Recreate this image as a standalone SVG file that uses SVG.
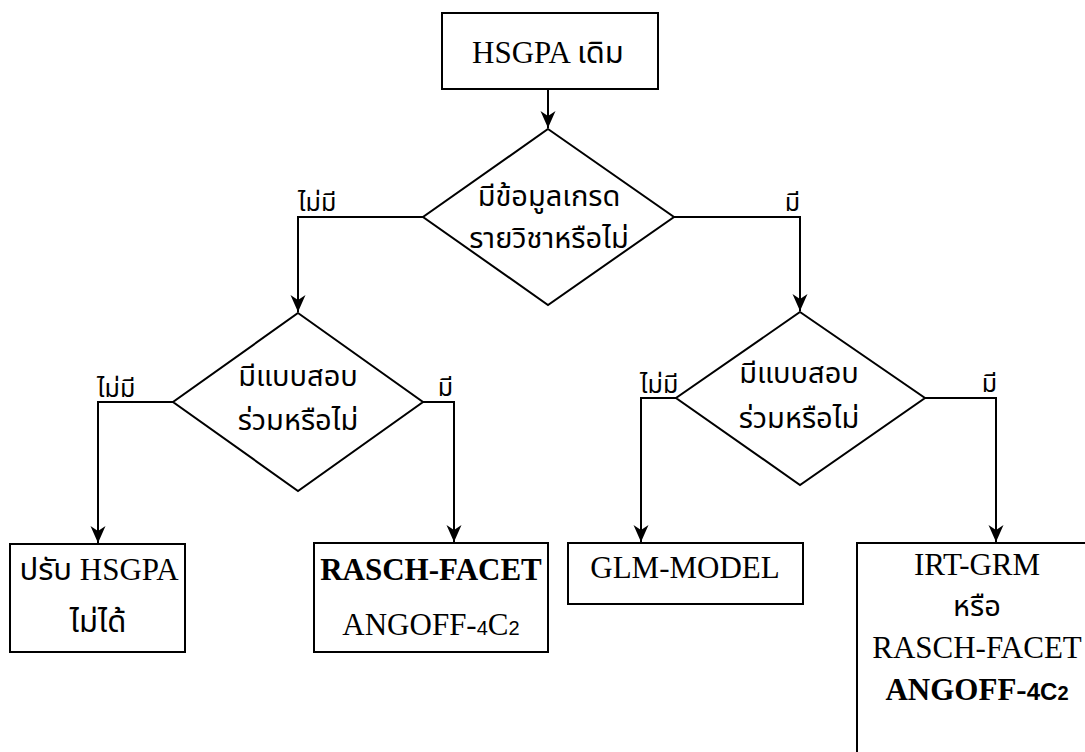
<svg xmlns="http://www.w3.org/2000/svg" width="1085" height="752" viewBox="0 0 1085 752">
<style>
.shape{fill:#fff;stroke:#000;stroke-width:2}
.ln{fill:none;stroke:#000;stroke-width:2}
.t{font-family:"Liberation Serif","Noto Sans Thai","Loma","Garuda","Noto Sans",serif;font-size:31px;fill:#000;text-anchor:middle}
.th{font-family:"Noto Sans Thai","Loma","Garuda","Noto Sans","DejaVu Sans",sans-serif;font-size:29px;fill:#000;text-anchor:middle}
.lb{font-family:"Noto Sans Thai","Loma","Garuda","Noto Sans","DejaVu Sans",sans-serif;font-size:25px;fill:#000}
.b{font-weight:bold}
.sm{font-family:"Liberation Sans",sans-serif;font-size:20px}
.ss{font-family:"Liberation Sans",sans-serif}
</style>
<defs>
<marker id="ah" markerUnits="userSpaceOnUse" markerWidth="20" markerHeight="20" viewBox="-18 -9 20 18" refX="0" refY="0" orient="auto">
<path d="M0,0 L-17,-7.5 L-12,0 L-17,7.5 Z" fill="#000"/>
</marker>
</defs>
<g id="connectors">
<path class="ln" d="M548,89 V128" marker-end="url(#ah)"/>
<path class="ln" d="M423,217 H298 V312" marker-end="url(#ah)"/>
<path class="ln" d="M674,217 H800 V311" marker-end="url(#ah)"/>
<path class="ln" d="M173,402 H98 V543" marker-end="url(#ah)"/>
<path class="ln" d="M423,402 H454 V542" marker-end="url(#ah)"/>
<path class="ln" d="M676,398 H641 V542" marker-end="url(#ah)"/>
<path class="ln" d="M925,398 H996 V542" marker-end="url(#ah)"/>
<text class="lb" x="298" y="211">ไม่มี</text>
<text class="lb" x="800" y="211" text-anchor="end">มี</text>
<text class="lb" x="97" y="397">ไม่มี</text>
<text class="lb" x="453" y="396" text-anchor="end">มี</text>
<text class="lb" x="640" y="393">ไม่มี</text>
<text class="lb" x="997" y="392" text-anchor="end">มี</text>
</g>
<g id="start">
<rect class="shape" x="442" y="13" width="216" height="76"/>
<text class="t" x="548" y="63">HSGPA เดิม</text>
</g>
<g id="decision-grade">
<polygon class="shape" points="548,129 674,217 548,305 423,217"/>
<text class="th" x="549" y="206">มีข้อมูลเกรด</text>
<text class="th" x="549" y="248">รายวิชาหรือไม่</text>
</g>
<g id="decision-left">
<polygon class="shape" points="298,313 423,402 298,491 173,402"/>
<text class="th" x="298" y="386">มีแบบสอบ</text>
<text class="th" x="298" y="430">ร่วมหรือไม่</text>
</g>
<g id="decision-right">
<polygon class="shape" points="800,312 925,398 800,485 676,398"/>
<text class="th" x="799" y="383">มีแบบสอบ</text>
<text class="th" x="799" y="428">ร่วมหรือไม่</text>
</g>
<g id="result-none">
<rect class="shape" x="10" y="544" width="175" height="108"/>
<text class="t" x="99" y="580">ปรับ HSGPA</text>
<text class="t" x="98" y="632">ไม่ได้</text>
</g>
<g id="result-rasch">
<rect class="shape" x="314" y="543" width="234" height="109"/>
<text class="t b" x="431" y="580">RASCH-FACET</text>
<text class="t" x="431" y="635">ANGOFF-<tspan class="sm">4</tspan>C<tspan class="sm">2</tspan></text>
</g>
<g id="result-glm">
<rect class="shape" x="568" y="543" width="235" height="61"/>
<text class="t" x="685" y="578">GLM-MODEL</text>
</g>
<g id="result-irt">
<rect class="shape" x="857" y="543" width="240" height="230"/>
<text class="t" x="977" y="575">IRT-GRM</text>
<text class="th" x="977" y="616">หรือ</text>
<text class="t" x="977" y="658">RASCH-FACET</text>
<text class="t b" x="977" y="700">ANGOFF-<tspan class="ss" font-size="24">4C</tspan><tspan class="sm">2</tspan></text>
</g>
</svg>
